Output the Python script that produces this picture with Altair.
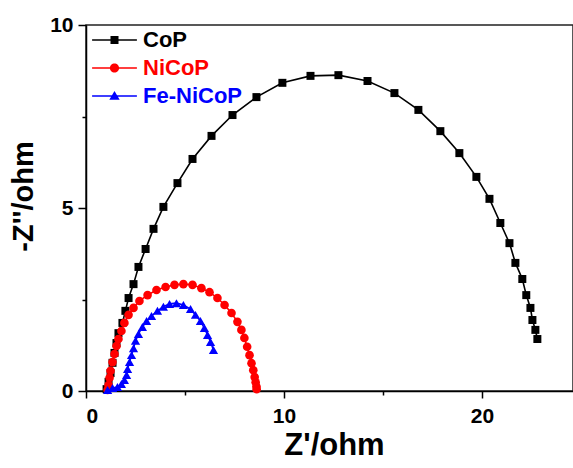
import altair as alt
import pandas as pd

series_names = ["CoP", "NiCoP", "Fe-NiCoP"]
series_colors = ["#000000", "#ff0000", "#0000ff"]
series_shapes = ["square", "circle", "triangle-up"]
series_sizes = [64, 85, 110]

cop_x = [1.04, 1.14, 1.24, 1.34, 1.44, 1.54, 1.64, 1.84, 1.99, 2.15, 2.40, 2.65,
         3.01, 3.41, 3.91, 4.62, 5.38, 6.34, 7.40, 8.61, 9.92, 11.34, 12.75,
         14.22, 15.58, 16.79, 17.90, 18.86, 19.72, 20.38, 20.93, 21.39, 21.69,
         22.04, 22.24, 22.45, 22.55, 22.70, 22.80]
cop_y = [0.05, 0.25, 0.49, 0.77, 1.04, 1.31, 1.58, 1.86, 2.19, 2.54, 2.92, 3.39,
         3.88, 4.43, 5.03, 5.68, 6.34, 6.97, 7.54, 8.03, 8.42, 8.61, 8.63,
         8.47, 8.14, 7.68, 7.10, 6.50, 5.85, 5.25, 4.59, 4.04, 3.50,
         3.06, 2.62, 2.27, 1.94, 1.67, 1.42]

nicop_x = [1.09, 1.14, 1.19, 1.24, 1.34, 1.44, 1.54, 1.64, 1.79, 1.94, 2.15, 2.40,
           2.70, 3.11, 3.56, 4.02, 4.47, 4.92, 5.38, 5.83, 6.24, 6.64, 7.00,
           7.35, 7.65, 7.85, 8.00, 8.14, 8.26, 8.36, 8.45, 8.52, 8.57, 8.61, 8.62]
nicop_y = [0.03, 0.16, 0.36, 0.55, 0.79, 1.01, 1.23, 1.42, 1.64, 1.86, 2.08, 2.27,
           2.46, 2.62, 2.76, 2.84, 2.90, 2.92, 2.90, 2.81, 2.70, 2.54, 2.35,
           2.13, 1.89, 1.67, 1.45, 1.21, 0.98, 0.76, 0.57, 0.38, 0.24, 0.12, 0.05]

fenicop_x = [1.09, 1.34, 1.59, 1.79, 1.94, 2.05, 2.10, 2.20, 2.30, 2.40, 2.50, 2.65,
             2.85, 3.06, 3.31, 3.61, 3.91, 4.22, 4.57, 4.92, 5.28, 5.53, 5.78,
             5.98, 6.14, 6.29, 6.44]
fenicop_y = [0.03, 0.08, 0.11, 0.19, 0.30, 0.44, 0.60, 0.79, 0.98, 1.17, 1.37, 1.56,
             1.75, 1.91, 2.05, 2.19, 2.30, 2.38, 2.40, 2.35, 2.24, 2.08, 1.91,
             1.72, 1.53, 1.34, 1.12]

x_ticks = [0, 5, 10, 15, 20]
y_ticks = [0, 2.5, 5, 7.5, 10]

# legend symbols: a line with the marker on it (custom paths)
legend_paths = [
    "M-5.6,-0.2L5.6,-0.2L5.6,0.2L-5.6,0.2Z M-1,-1L1,-1L1,1L-1,1Z",
    "M-5.6,-0.2L5.6,-0.2L5.6,0.2L-5.6,0.2Z M1.15,0A1.15,1.15 0 1,1 -1.15,0A1.15,1.15 0 1,1 1.15,0Z",
    "M-5.6,-0.2L5.6,-0.2L5.6,0.2L-5.6,0.2Z M0,-1.25L1.3,0.95L-1.3,0.95Z",
]

rows = []
for name, xs, ys in [("CoP", cop_x, cop_y), ("NiCoP", nicop_x, nicop_y),
                     ("Fe-NiCoP", fenicop_x, fenicop_y)]:
    for i, (a, b) in enumerate(zip(xs, ys)):
        rows.append({"series": name, "zre": a, "zim": b, "idx": i})
df = pd.DataFrame(rows)

FONT = "Liberation Sans"

x_enc = alt.X(
    "zre:Q",
    scale=alt.Scale(domain=[0, 24.6], nice=False, zero=False),
    axis=alt.Axis(
        title="Z'/ohm", values=x_ticks, grid=False,
        labelExpr="datum.value % 10 === 0 ? datum.label : ''",
        tickSize={"condition": {"test": "datum.value % 10 === 0", "value": 7}, "value": 4},
        labelPadding=7, labelFont=FONT, labelFontSize=21, labelFontWeight="bold",
        labelColor="black", titleFont=FONT, titleFontSize=31, titleFontWeight="bold",
        titleColor="black", titleX=248, titleY=39,
        domainColor="black", domainWidth=1.5, tickColor="black", tickWidth=1.5,
    ),
)
y_enc = alt.Y(
    "zim:Q",
    scale=alt.Scale(domain=[0, 10], nice=False),
    axis=alt.Axis(
        title="-Z''/ohm", values=y_ticks, grid=False,
        labelExpr="datum.value % 5 === 0 ? datum.label : ''",
        tickSize={"condition": {"test": "datum.value % 5 === 0", "value": 8}, "value": 4},
        labelPadding=5, labelFont=FONT, labelFontSize=21, labelFontWeight="bold",
        labelColor="black", titleFont=FONT, titleFontSize=29, titleFontWeight="bold",
        titleColor="black", titleX=-63, titleY=171, titleBaseline="middle", titleAngle=270,
        domainColor="black", domainWidth=1.5, tickColor="black", tickWidth=1.5,
    ),
)

color_scale = alt.Scale(domain=series_names, range=series_colors)

lines = alt.Chart(df).mark_line(strokeWidth=1.6).encode(
    x=x_enc, y=y_enc,
    color=alt.Color("series:N", scale=color_scale, legend=None),
    order="idx:Q",
)

points = alt.Chart(df).mark_point(filled=True, opacity=1).encode(
    x=x_enc, y=y_enc,
    color=alt.Color("series:N", scale=color_scale, legend=None),
    shape=alt.Shape("series:N", scale=alt.Scale(domain=series_names, range=series_shapes), legend=None),
    size=alt.Size("series:N", scale=alt.Scale(domain=series_names, range=series_sizes), legend=None),
)

legend_props = dict(
    title=None, orient="none", legendX=5, legendY=4, padding=0,
    symbolSize=64, symbolOffset=12.5, symbolStrokeWidth=0, symbolOpacity=1,
    labelOffset=17.5, labelFont=FONT, labelFontSize=22, labelFontWeight="bold",
    labelColor=alt.ExprRef("datum.label === 'CoP' ? '#000000' : (datum.label === 'NiCoP' ? '#ff0000' : '#0000ff')"),
    rowPadding=6, labelLimit=300,
)

leg = alt.Chart(df).mark_point(filled=True, opacity=0).encode(
    x=x_enc, y=y_enc,
    color=alt.Color("series:N", scale=color_scale, legend=alt.Legend(**legend_props)),
    shape=alt.Shape("series:N", scale=alt.Scale(domain=series_names, range=legend_paths),
                    legend=alt.Legend(**legend_props)),
)

chart = alt.layer(lines, points, leg).resolve_scale(
    color="independent", shape="independent", size="independent"
).properties(
    width=487, height=366,
    autosize=alt.AutoSizeParams(type="none"),
    padding={"left": 86, "top": 25, "right": 0, "bottom": 77},
    background="white",
).configure_view(stroke="#222222", strokeWidth=1.5)

chart.save("out.html", embed_options={"renderer": "svg", "actions": False})
